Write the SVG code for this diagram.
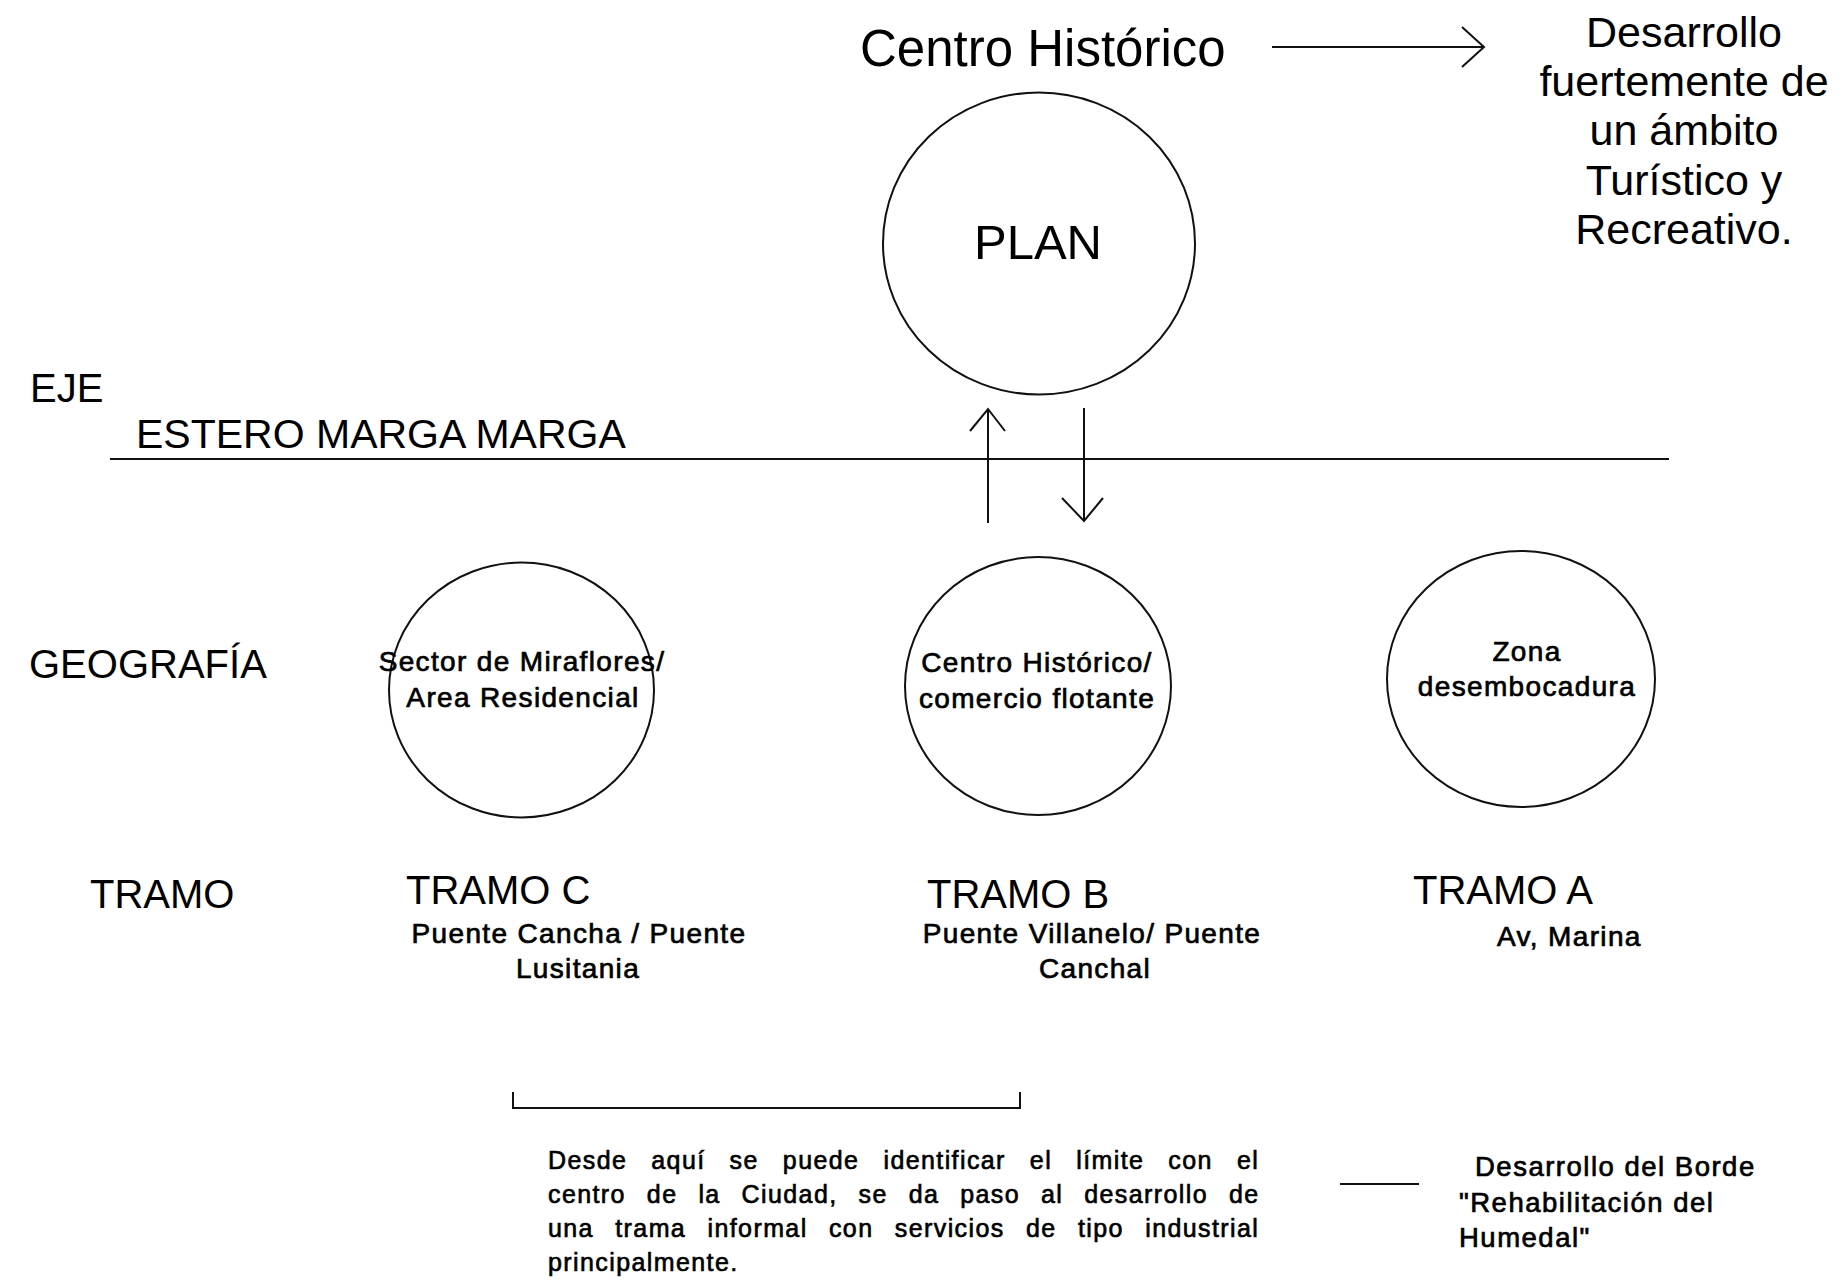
<svg xmlns="http://www.w3.org/2000/svg" width="1840" height="1281" viewBox="0 0 1840 1281">
<style>
  text { font-family: "Liberation Sans", Arial, sans-serif; fill: #000; }
  .big { font-size: 51px; }
  .lg { font-size: 43px; }
  .md { font-size: 40px; }
  .sm { font-size: 28px; letter-spacing: 1.35px; stroke: #000; stroke-width: 0.7px; }
  .par { font-size: 25px; letter-spacing: 1.4px; stroke: #000; stroke-width: 0.65px; }
  .leg { font-size: 27.5px; letter-spacing: 1.5px; stroke: #000; stroke-width: 0.7px; }
  .c { text-anchor: middle; }
  .node { fill: none; stroke: #111; stroke-width: 2; }
  .ln { fill: none; stroke: #111; stroke-width: 2; }
</style>
<rect width="1840" height="1281" fill="#fff"/>

<g id="centro-historico-title">
  <text class="big" x="860" y="66">Centro Histórico</text>
</g>
<g id="desarrollo-turistico">
  <text class="lg c" x="1684" y="47">Desarrollo</text>
  <text class="lg c" x="1684" y="96">fuertemente de</text>
  <text class="lg c" x="1684" y="145">un ámbito</text>
  <text class="lg c" x="1684" y="195">Turístico y</text>
  <text class="lg c" x="1684" y="244">Recreativo.</text>
</g>
<g id="plan">
  <ellipse class="node" cx="1039" cy="243.5" rx="156" ry="151"/>
  <text class="big c" x="1038" y="259" style="font-size:49px">PLAN</text>
</g>

<g id="labels">
  <text class="md" x="30" y="402">EJE</text>
  <text class="md" x="136" y="448" style="font-size:41px">ESTERO MARGA MARGA</text>
  <text class="md" x="29" y="678">GEOGRAFÍA</text>
  <text class="md" x="90" y="908">TRAMO</text>
</g>

<g id="sector-miraflores">
  <ellipse class="node" cx="521.5" cy="690" rx="132.5" ry="127.5"/>
  <text class="sm c" x="522" y="671">Sector de Miraflores/</text>
  <text class="sm c" x="523" y="707">Area Residencial</text>
</g>
<g id="centro-historico-comercio">
  <ellipse class="node" cx="1038" cy="686" rx="133" ry="129"/>
  <text class="sm c" x="1037" y="672">Centro Histórico/</text>
  <text class="sm c" x="1037" y="708">comercio flotante</text>
</g>
<g id="zona-desembocadura">
  <ellipse class="node" cx="1521" cy="679" rx="134" ry="128"/>
  <text class="sm c" x="1527" y="661">Zona</text>
  <text class="sm c" x="1527" y="696">desembocadura</text>
</g>

<g id="tramo-c">
  <text class="md" x="406" y="904">TRAMO C</text>
  <text class="sm c" x="579" y="943">Puente Cancha / Puente</text>
  <text class="sm c" x="578" y="978">Lusitania</text>
</g>
<g id="tramo-b">
  <text class="md" x="927" y="908">TRAMO B</text>
  <text class="sm c" x="1092" y="943">Puente Villanelo/ Puente</text>
  <text class="sm c" x="1095" y="978">Canchal</text>
</g>
<g id="tramo-a">
  <text class="md" x="1413" y="904">TRAMO A</text>
  <text class="sm" x="1497" y="946">Av, Marina</text>
</g>

<g id="descripcion">
  <text class="par" x="548" y="1169" style="word-spacing:15.7px">Desde aquí se puede identificar el límite con el</text>
  <text class="par" x="548" y="1203" style="word-spacing:12.6px">centro de la Ciudad, se da paso al desarrollo de</text>
  <text class="par" x="548" y="1237" style="word-spacing:13px">una trama informal con servicios de tipo industrial</text>
  <text class="par" x="548" y="1271">principalmente.</text>
</g>

<g id="leyenda">
  <line class="ln" x1="1340" y1="1184" x2="1419" y2="1184"/>
  <text class="leg" x="1475" y="1176">Desarrollo del Borde</text>
  <text class="leg" x="1459" y="1212">"Rehabilitación del</text>
  <text class="leg" x="1459" y="1247">Humedal"</text>
</g>

<g id="connectors">
  <line class="ln" x1="1272" y1="47" x2="1484" y2="47"/>
  <polyline class="ln" points="1462,27 1484,47 1462,67"/>
  <line class="ln" x1="110" y1="459" x2="1669" y2="459"/>
  <line class="ln" x1="988" y1="523" x2="988" y2="409"/>
  <polyline class="ln" points="970,431 988,409 1005,431"/>
  <line class="ln" x1="1084" y1="408" x2="1084" y2="521"/>
  <polyline class="ln" points="1062,498 1084,521 1103,498"/>
  <polyline class="ln" points="513,1092 513,1108 1020,1108 1020,1092"/>
</g>
</svg>
